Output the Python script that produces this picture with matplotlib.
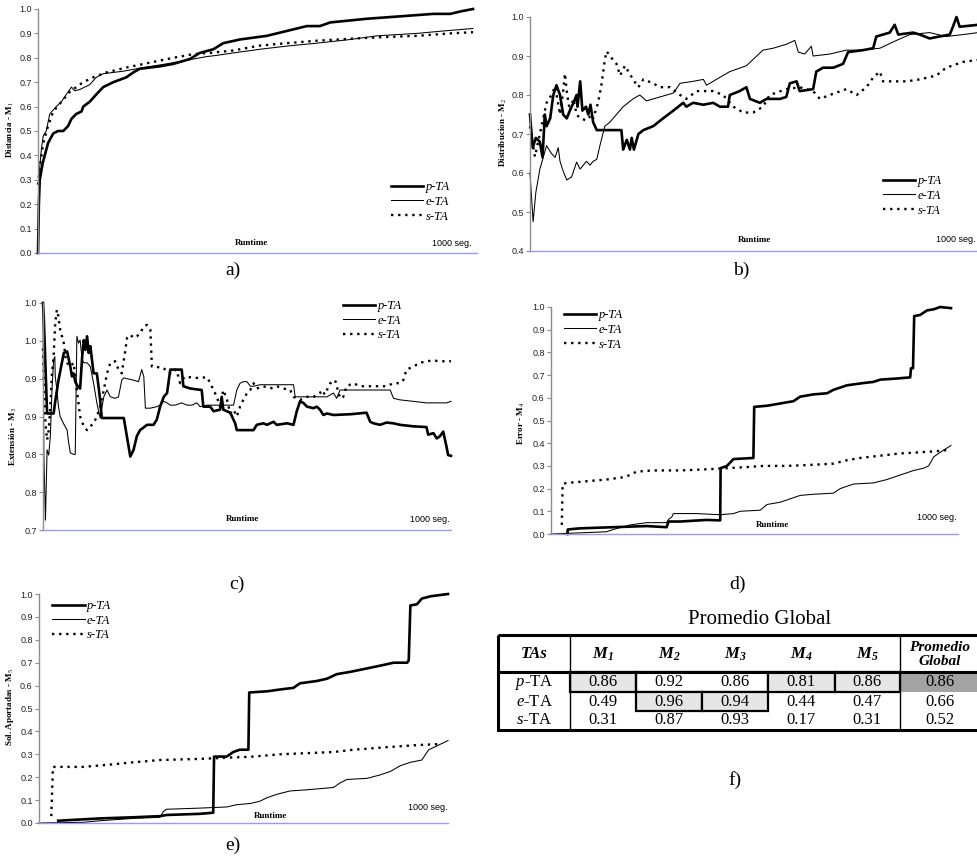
import matplotlib
matplotlib.use('Agg')
import matplotlib.pyplot as plt
from matplotlib.lines import Line2D
from matplotlib.patches import Rectangle

plt.rcParams['mathtext.fontset'] = 'custom'
plt.rcParams['mathtext.rm'] = 'Liberation Serif'
plt.rcParams['mathtext.it'] = 'Liberation Serif:italic'
plt.rcParams['mathtext.bf'] = 'Liberation Serif:bold:italic'

# ---- data (runtime in seg., metric value) ----
series_names = ['p-TA', 'e-TA', 's-TA']

# a) Distancia - M1
a_x_p = [0, 2, 4, 11, 23, 35, 46, 58, 69, 77, 88, 100, 104, 119, 134, 150, 173, 203, 219, 234,
         280, 311, 349, 372, 403, 426, 464, 526, 572, 618, 648, 672, 756, 833, 909, 948, 971, 1000]
a_y_p = [0.0, 0.2, 0.3, 0.37, 0.45, 0.49, 0.50, 0.50, 0.52, 0.55, 0.57, 0.58, 0.60, 0.62, 0.65, 0.68,
         0.70, 0.72, 0.74, 0.755, 0.765, 0.775, 0.795, 0.82, 0.835, 0.86, 0.875, 0.89, 0.91, 0.93,
         0.93, 0.945, 0.96, 0.97, 0.98, 0.98, 0.99, 1.0]
a_x_e = [0, 4, 8, 12, 19, 27, 42, 54, 65, 77, 84, 96, 119, 134, 150, 196, 242, 295, 342, 388,
         411, 449, 510, 572, 641, 718, 779, 871, 932, 1000]
a_y_e = [0.0, 0.35, 0.43, 0.48, 0.50, 0.57, 0.60, 0.62, 0.65, 0.68, 0.665, 0.67, 0.69, 0.72, 0.735,
         0.745, 0.76, 0.775, 0.79, 0.805, 0.81, 0.82, 0.835, 0.848, 0.86, 0.875, 0.89, 0.90, 0.91, 0.92]
a_x_s = [0, 4, 12, 23, 35, 54, 73, 88, 104, 127, 157, 203, 257, 311, 357, 395, 449, 510, 572, 641,
         718, 794, 871, 948, 1000]
a_y_s = [0.28, 0.35, 0.45, 0.52, 0.58, 0.62, 0.66, 0.68, 0.70, 0.72, 0.74, 0.76, 0.78, 0.80, 0.815,
         0.82, 0.83, 0.85, 0.86, 0.87, 0.878, 0.885, 0.89, 0.90, 0.905]

# b) Distribucion - M2
b_x_p = [0, 6, 13, 22, 28, 33, 37, 45, 52, 59, 67, 74, 82, 89, 97, 104, 106, 112, 117, 125,
         130, 135, 141, 149, 156, 186, 204, 208, 216, 223, 227, 232, 242, 253, 275, 297, 320, 342, 349, 364,
         387, 409, 424, 442, 446, 468, 483, 491, 513, 528, 558, 572, 580, 595, 602, 632, 639, 654, 677, 699,
         710, 743, 766, 773, 803, 814, 822, 855, 870, 892, 914, 937, 944, 952, 959, 1000]
b_y_p = [0.75, 0.665, 0.69, 0.68, 0.64, 0.75, 0.72, 0.74, 0.80, 0.825, 0.80, 0.75, 0.74, 0.76, 0.78,
         0.80, 0.77, 0.835, 0.76, 0.77, 0.75, 0.775, 0.73, 0.71, 0.71, 0.71, 0.71, 0.66, 0.685, 0.66,
         0.69, 0.66, 0.70, 0.71, 0.72, 0.74, 0.76, 0.78, 0.77, 0.78, 0.775, 0.78, 0.77, 0.77, 0.80,
         0.81, 0.82, 0.79, 0.78, 0.79, 0.79, 0.795, 0.83, 0.835, 0.81, 0.815, 0.86, 0.87, 0.87, 0.88,
         0.91, 0.915, 0.92, 0.95, 0.96, 0.98, 0.955, 0.96, 0.955, 0.945, 0.95, 0.955, 0.975, 1.0, 0.975, 0.98]
b_x_e = [0, 7, 13, 22, 37, 48, 56, 63, 67, 74, 82, 93, 104, 112, 119, 126, 134, 141, 149, 156,
         167, 178, 193, 208, 230, 245, 260, 290, 320, 335, 364, 387, 394, 416, 446, 483, 506, 520, 543, 572,
         591, 599, 613, 628, 632, 669, 706, 743, 781, 818, 848, 892, 929, 967, 1000]
b_y_e = [0.60, 0.475, 0.55, 0.61, 0.67, 0.65, 0.64, 0.665, 0.63, 0.605, 0.582, 0.59, 0.628, 0.61, 0.62,
         0.63, 0.62, 0.63, 0.635, 0.67, 0.72, 0.73, 0.75, 0.77, 0.79, 0.80, 0.785, 0.795, 0.805, 0.83,
         0.835, 0.84, 0.825, 0.84, 0.86, 0.875, 0.90, 0.915, 0.92, 0.93, 0.94, 0.91, 0.905, 0.925, 0.90,
         0.905, 0.915, 0.915, 0.92, 0.94, 0.955, 0.96, 0.95, 0.955, 0.96]
b_x_s = [0, 11, 22, 37, 48, 56, 67, 73, 78, 83, 89, 97, 104, 112, 126, 138, 141, 152, 160, 167,
         171, 182, 193, 201, 212, 230, 242, 253, 275, 290, 312, 335, 349, 372, 409, 431, 454, 476, 498, 520,
         535, 572, 602, 632, 647, 669, 706, 729, 751, 766, 781, 788, 840, 870, 907, 929, 967, 1000]
b_y_s = [0.72, 0.642, 0.70, 0.78, 0.80, 0.822, 0.75, 0.80, 0.855, 0.80, 0.76, 0.79, 0.75, 0.74, 0.735,
         0.75, 0.74, 0.78, 0.83, 0.89, 0.912, 0.895, 0.88, 0.85, 0.875, 0.84, 0.82, 0.84, 0.83, 0.82,
         0.82, 0.80, 0.79, 0.81, 0.81, 0.80, 0.77, 0.755, 0.755, 0.77, 0.80, 0.815, 0.82, 0.81, 0.79,
         0.80, 0.815, 0.80, 0.82, 0.845, 0.86, 0.835, 0.835, 0.84, 0.85, 0.87, 0.885, 0.89]

# c) Extension - M3
c_x_p = [0, 2, 10, 26, 30, 38, 51, 59, 67, 71, 75, 79, 85, 91, 96, 100, 104, 108, 112, 116,
         124, 132, 136, 140, 144, 198, 214, 222, 230, 238, 255, 271, 279, 287, 296, 304, 312, 340, 344, 361,
         389, 393, 410, 418, 434, 438, 442, 459, 471, 475, 516, 524, 540, 549, 565, 573, 598, 614, 622, 630,
         638, 647, 663, 671, 679, 687, 696, 712, 753, 793, 802, 810, 826, 842, 859, 875, 908, 940, 944, 957,
         965, 973, 981, 989, 993, 1000]
c_y_p = [1.0, 0.98, 0.854, 0.854, 0.87, 0.898, 0.934, 0.936, 0.916, 0.903, 0.907, 0.896, 0.890, 0.887,
         0.929, 0.951, 0.938, 0.956, 0.934, 0.943, 0.907, 0.907, 0.890, 0.872, 0.848, 0.848, 0.797, 0.806,
         0.824, 0.832, 0.839, 0.839, 0.846, 0.863, 0.876, 0.881, 0.912, 0.912, 0.890, 0.887, 0.885, 0.863,
         0.863, 0.857, 0.859, 0.876, 0.859, 0.855, 0.841, 0.832, 0.832, 0.839, 0.841, 0.839, 0.843, 0.839,
         0.841, 0.839, 0.857, 0.870, 0.868, 0.863, 0.861, 0.863, 0.859, 0.852, 0.854, 0.852, 0.853, 0.855,
         0.843, 0.841, 0.839, 0.842, 0.841, 0.839, 0.837, 0.836, 0.826, 0.828, 0.821, 0.824, 0.830, 0.810,
         0.799, 0.798]
c_x_e = [0, 2, 6, 10, 14, 18, 22, 26, 29, 30, 34, 38, 42, 51, 59, 63, 67, 75, 79, 83,
         87, 91, 96, 100, 108, 116, 124, 132, 140, 149, 157, 165, 177, 185, 193, 198, 222, 234, 242, 247,
         251, 263, 279, 287, 296, 304, 312, 324, 340, 353, 365, 377, 385, 402, 418, 434, 451, 467, 475, 483,
         491, 500, 508, 516, 532, 549, 581, 614, 618, 630, 663, 696, 712, 720, 728, 753, 793, 834, 851, 859,
         875, 908, 940, 973, 989, 1000]
c_y_e = [1.0, 0.80, 0.713, 0.806, 0.799, 0.824, 0.885, 0.925, 0.929, 0.903, 0.885, 0.863, 0.850, 0.840,
         0.832, 0.815, 0.802, 0.800, 0.800, 0.956, 0.947, 0.951, 0.925, 0.921, 0.921, 0.916, 0.894, 0.868,
         0.848, 0.876, 0.885, 0.876, 0.874, 0.876, 0.898, 0.901, 0.898, 0.896, 0.912, 0.903, 0.861, 0.861,
         0.863, 0.865, 0.870, 0.868, 0.865, 0.865, 0.868, 0.865, 0.865, 0.868, 0.863, 0.865, 0.865, 0.865,
         0.865, 0.865, 0.885, 0.894, 0.896, 0.896, 0.890, 0.890, 0.892, 0.892, 0.892, 0.892, 0.876, 0.876,
         0.876, 0.876, 0.881, 0.874, 0.885, 0.885, 0.885, 0.885, 0.885, 0.874, 0.872, 0.870, 0.868, 0.868,
         0.868, 0.870]
c_x_s = [0, 6, 10, 14, 18, 22, 26, 30, 34, 38, 42, 51, 55, 59, 67, 75, 83, 91, 100, 108,
         116, 124, 132, 140, 149, 157, 165, 177, 185, 193, 202, 206, 214, 222, 230, 238, 247, 255, 263, 267,
         279, 287, 296, 304, 312, 320, 324, 332, 336, 340, 349, 369, 385, 402, 410, 418, 426, 434, 442, 451,
         459, 467, 475, 483, 491, 500, 508, 516, 524, 540, 557, 573, 589, 606, 614, 630, 647, 663, 679, 683,
         691, 696, 704, 712, 716, 720, 728, 736, 744, 761, 777, 793, 818, 842, 859, 875, 883, 891, 908, 924,
         940, 957, 973, 1000]
c_y_s = [0.94, 0.841, 0.819, 0.832, 0.863, 0.907, 0.929, 0.974, 0.991, 0.982, 0.965, 0.947, 0.929, 0.921,
         0.916, 0.921, 0.885, 0.850, 0.837, 0.832, 0.837, 0.841, 0.850, 0.863, 0.885, 0.907, 0.921, 0.923,
         0.912, 0.907, 0.938, 0.954, 0.958, 0.954, 0.956, 0.960, 0.969, 0.971, 0.965, 0.916, 0.916, 0.914,
         0.914, 0.909, 0.907, 0.907, 0.912, 0.903, 0.894, 0.898, 0.903, 0.901, 0.901, 0.902, 0.894, 0.885,
         0.876, 0.863, 0.885, 0.872, 0.854, 0.859, 0.850, 0.863, 0.872, 0.881, 0.885, 0.894, 0.887, 0.890,
         0.887, 0.890, 0.887, 0.885, 0.876, 0.872, 0.876, 0.876, 0.881, 0.885, 0.879, 0.885, 0.894, 0.896,
         0.898, 0.890, 0.874, 0.876, 0.890, 0.894, 0.890, 0.890, 0.890, 0.890, 0.894, 0.894, 0.898, 0.912,
         0.916, 0.921, 0.923, 0.924, 0.923, 0.923]
c_ticks = [0.7, 0.75, 0.8, 0.85, 0.9, 0.95, 1.0]
c_ticklabels = ['0.7', '0.8', '0.8', '0.9', '0.9', '1.0', '1.0']

# d) Error - M4
d_x_p = [41, 42, 73, 156, 239, 289, 294, 323, 389, 423, 424, 440, 456, 506, 508, 540, 573, 606, 623, 656,
         690, 706, 740, 781, 806, 823, 865, 898, 900, 905, 908, 923, 940, 957, 973, 1000]
d_y_p = [0.0, 0.02, 0.025, 0.03, 0.035, 0.03, 0.055, 0.055, 0.062, 0.06, 0.29, 0.30, 0.33, 0.335, 0.56,
         0.565, 0.575, 0.585, 0.605, 0.615, 0.62, 0.635, 0.655, 0.665, 0.67, 0.68, 0.685, 0.69, 0.73, 0.73,
         0.96, 0.965, 0.985, 0.99, 1.0, 0.995]
d_x_e = [0, 73, 139, 156, 198, 239, 289, 294, 302, 306, 364, 423, 456, 473, 523, 540, 573, 590, 623, 656,
         706, 723, 756, 806, 840, 873, 907, 932, 944, 957, 973, 1000]
d_y_e = [0.0, 0.005, 0.01, 0.02, 0.04, 0.05, 0.05, 0.065, 0.075, 0.09, 0.09, 0.085, 0.09, 0.10, 0.105,
         0.13, 0.14, 0.15, 0.17, 0.175, 0.18, 0.20, 0.22, 0.225, 0.24, 0.26, 0.28, 0.29, 0.30, 0.34, 0.36, 0.39]
d_x_s = [27, 29, 39, 73, 139, 181, 198, 214, 256, 323, 389, 440, 490, 531, 590, 656, 706, 740, 773, 823,
         873, 923, 965, 990]
d_y_s = [0.04, 0.22, 0.225, 0.23, 0.24, 0.25, 0.26, 0.275, 0.28, 0.28, 0.285, 0.29, 0.295, 0.30, 0.30,
         0.305, 0.31, 0.325, 0.335, 0.345, 0.355, 0.36, 0.365, 0.37]

# e) Sol. Aportadas - M5
e_x_p = [47, 149, 230, 296, 312, 393, 426, 428, 459, 475, 491, 512, 514, 557, 598, 622, 638, 679, 704, 728,
         761, 802, 842, 867, 900, 904, 908, 924, 936, 957, 1000]
e_y_p = [0.01, 0.02, 0.025, 0.03, 0.035, 0.04, 0.045, 0.29, 0.29, 0.31, 0.32, 0.32, 0.57, 0.575, 0.585,
         0.59, 0.61, 0.62, 0.63, 0.65, 0.66, 0.675, 0.69, 0.70, 0.70, 0.71, 0.95, 0.955, 0.98, 0.99, 1.0]
e_x_e = [0, 108, 149, 230, 296, 304, 312, 393, 459, 483, 516, 540, 557, 581, 614, 655, 687, 720, 736, 753,
         802, 834, 859, 883, 908, 936, 953, 965, 1000]
e_y_e = [0.0, 0.003, 0.01, 0.02, 0.025, 0.05, 0.06, 0.065, 0.07, 0.08, 0.085, 0.095, 0.11, 0.125, 0.14,
         0.145, 0.15, 0.155, 0.175, 0.19, 0.195, 0.21, 0.225, 0.25, 0.265, 0.275, 0.32, 0.33, 0.36]
e_x_s = [30, 34, 108, 173, 230, 296, 393, 459, 524, 589, 655, 720, 769, 842, 924, 981]
e_y_s = [0.03, 0.245, 0.245, 0.255, 0.265, 0.275, 0.28, 0.285, 0.29, 0.30, 0.305, 0.31, 0.32, 0.33,
         0.34, 0.345]

# f) table
table_title = 'Promedio Global'
table_cols = ['TAs', '$\\mathbf{M_1}$', '$\\mathbf{M_2}$', '$\\mathbf{M_3}$', '$\\mathbf{M_4}$',
              '$\\mathbf{M_5}$', 'Promedio\nGlobal']
table_rows = ['$\\mathit{p}$-TA', '$\\mathit{e}$-TA', '$\\mathit{s}$-TA']
vals_p = [0.86, 0.92, 0.86, 0.81, 0.86, 0.86]
vals_e = [0.49, 0.96, 0.94, 0.44, 0.47, 0.66]
vals_s = [0.31, 0.87, 0.93, 0.17, 0.31, 0.52]

# ---- figure ----
W, H = 978, 861
fig = plt.figure(figsize=(W / 100, H / 100), dpi=100)

def fx(x):
    return x / W

def fy(y):
    return 1 - y / H

SERIF = 'Liberation Serif'
SANS = 'Liberation Sans'


def panel(x0, xend, ytop, ybot, xmax, ylim, yticks, yticklabels=None):
    width = (xend - x0) * xmax / 1000.0
    ax = fig.add_axes([fx(x0), fy(ybot), width / W, (ybot - ytop) / H])
    ax.set_xlim(0, xmax)
    ax.set_ylim(*ylim)
    ax.patch.set_alpha(0)
    for s in ['top', 'right']:
        ax.spines[s].set_visible(False)
    ax.spines['left'].set_color('#8c8c8c')
    ax.spines['left'].set_linewidth(1.0)
    ax.spines['bottom'].set_color('#9b9bf2')
    ax.spines['bottom'].set_linewidth(1.0)
    ax.set_xticks([])
    ax.set_yticks(yticks)
    if yticklabels is None:
        yticklabels = ['%.1f' % t for t in yticks]
    ax.set_yticklabels(yticklabels, fontsize=6.5, family=SANS, color='#222222')
    ax.tick_params(axis='y', length=3, width=0.8, color='#8c8c8c', pad=1.5)
    return ax


def draw_lines(ax, xp, yp, xe, ye, xs, ys):
    ax.plot(xp, yp, color='black', lw=1.9, clip_on=False, solid_joinstyle='round')
    ax.plot(xe, ye, color='black', lw=0.75, clip_on=False)
    ax.plot(xs, ys, color='black', lw=1.7, linestyle=(0, (1.0, 2.0)), clip_on=False)


def legend(ax, x, y):
    handles = [Line2D([], [], color='black', lw=1.9),
               Line2D([], [], color='black', lw=0.75),
               Line2D([], [], color='black', lw=1.7, linestyle=(0, (1.0, 2.0)))]
    ax.legend(handles, series_names, loc='upper left', bbox_to_anchor=(fx(x), fy(y)),
              bbox_transform=fig.transFigure, frameon=False, handlelength=2.6,
              handletextpad=0.15, labelspacing=0.22, borderpad=0, borderaxespad=0,
              prop=dict(family=SERIF, style='italic', size=9))


def labels(ylabel, ylx, yly, rx, ry, sx, sy, sub, subx, suby, seg_ha='center'):
    fig.text(fx(ylx), fy(yly), ylabel, rotation=90, ha='center', va='center',
             fontsize=6.5, family=SERIF, weight='bold')
    fig.text(fx(rx), fy(ry), 'Runtime', ha='center', va='center', fontsize=6.5,
             family=SERIF, weight='bold')
    fig.text(fx(sx), fy(sy), '1000 seg.', ha=seg_ha, va='center', fontsize=6.5, family=SANS)
    fig.text(fx(subx), fy(suby), sub, ha='center', va='center', fontsize=14, family=SERIF)


ticks01 = [0.0, 0.1, 0.2, 0.3, 0.4, 0.5, 0.6, 0.7, 0.8, 0.9, 1.0]

# a)
ax_a = panel(38, 473, 9, 253, 1009, (0, 1.0), ticks01)
draw_lines(ax_a, a_x_p, a_y_p, a_x_e, a_y_e, a_x_s, a_y_s)
legend(ax_a, 391, 181)
labels('Distancia - M$_1$', 10, 130, 252, 243, 452, 244, 'a)', 233, 270)

# b)
ax_b = panel(530, 978, 17, 251, 1000, (0.4, 1.0), [0.4, 0.5, 0.6, 0.7, 0.8, 0.9, 1.0])
draw_lines(ax_b, b_x_p, b_y_p, b_x_e, b_y_e, b_x_s, b_y_s)
legend(ax_b, 883, 175)
labels('Distribucion - M$_2$', 503, 133, 755, 240, 976, 240, 'b)', 741, 270, seg_ha='right')

# c)
ax_c = panel(43, 451, 303, 530, 1000, (0.7, 1.0), c_ticks, c_ticklabels)
draw_lines(ax_c, c_x_p, c_y_p, c_x_e, c_y_e, c_x_s, c_y_s)
legend(ax_c, 343, 300)
labels('Extensión - M$_3$', 13, 437, 243, 519, 430, 519, 'c)', 237, 584)

# d)
ax_d = panel(551, 951, 307, 534, 1017, (0, 1.0), ticks01)
draw_lines(ax_d, d_x_p, d_y_p, d_x_e, d_y_e, d_x_s, d_y_s)
legend(ax_d, 564, 309)
labels('Error - M$_4$', 521, 423, 773, 525, 937, 517, 'd)', 737, 584)

# e)
ax_e = panel(39, 448, 594, 823, 1000, (0, 1.0), ticks01)
draw_lines(ax_e, e_x_p, e_y_p, e_x_e, e_y_e, e_x_s, e_y_s)
legend(ax_e, 52, 600)
labels('Sol. Aportadas - M$_5$', 10, 707, 270, 816, 428, 807, 'e)', 233, 845)

# f) table, drawn on an overlay in pixel units
tab = fig.add_axes([0, 0, 1, 1])
tab.set_xlim(0, W)
tab.set_ylim(H, 0)
tab.axis('off')
tab.text(760, 620, table_title, ha='center', va='center', fontsize=15, family=SERIF)

col_edges = [498, 570, 636, 702, 768, 835, 900, 990]
col_centers = [534, 603, 669, 735, 801, 867, 940]
row_edges = [635, 672, 692, 711, 730]
light, dark = '#e6e6e6', '#a3a3a3'

def cell(c0, c1, r, face='none', lw=1.6):
    tab.add_patch(Rectangle((col_edges[c0], row_edges[r]), col_edges[c1] - col_edges[c0],
                            row_edges[r + 1] - row_edges[r], facecolor=face,
                            edgecolor='black', lw=lw, zorder=1))

cell(1, 2, 1, light)
cell(2, 4, 1)
cell(4, 5, 1, light)
cell(5, 6, 1, light)
tab.add_patch(Rectangle((col_edges[6], row_edges[1]), col_edges[7] - col_edges[6],
                        row_edges[2] - row_edges[1], facecolor=dark, edgecolor='none', zorder=1))
cell(2, 3, 2, light)
cell(3, 4, 2, light)

tab.add_patch(Rectangle((col_edges[0], row_edges[0]), col_edges[7] - col_edges[0],
                        row_edges[4] - row_edges[0], facecolor='none', edgecolor='black',
                        lw=2.2, zorder=3))
tab.plot([col_edges[0], col_edges[7]], [row_edges[1]] * 2, color='black', lw=2.2, zorder=3)
for cx in [col_edges[1], col_edges[6]]:
    tab.plot([cx, cx], [row_edges[0], row_edges[4]], color='black', lw=1.0, zorder=3)

hy = (row_edges[0] + row_edges[1]) / 2
for i, name in enumerate(table_cols):
    size = 11 if i == 6 else 12
    tab.text(col_centers[i], hy + 1, name, ha='center', va='center', fontsize=size, family=SERIF,
             weight='bold', style='italic', linespacing=1.15, zorder=4)

for r, (name, vals) in enumerate(zip(table_rows, [vals_p, vals_e, vals_s])):
    ry = (row_edges[r + 1] + row_edges[r + 2]) / 2
    tab.text(col_centers[0], ry, name, ha='center', va='center', fontsize=12, family=SERIF, zorder=4)
    for c, v in enumerate(vals):
        tab.text(col_centers[c + 1], ry, '%.2f' % v, ha='center', va='center', fontsize=12,
                 family=SERIF, zorder=4)

tab.text(735, 780, 'f)', ha='center', va='center', fontsize=14, family=SERIF)

fig.savefig('out.png', dpi=100)
